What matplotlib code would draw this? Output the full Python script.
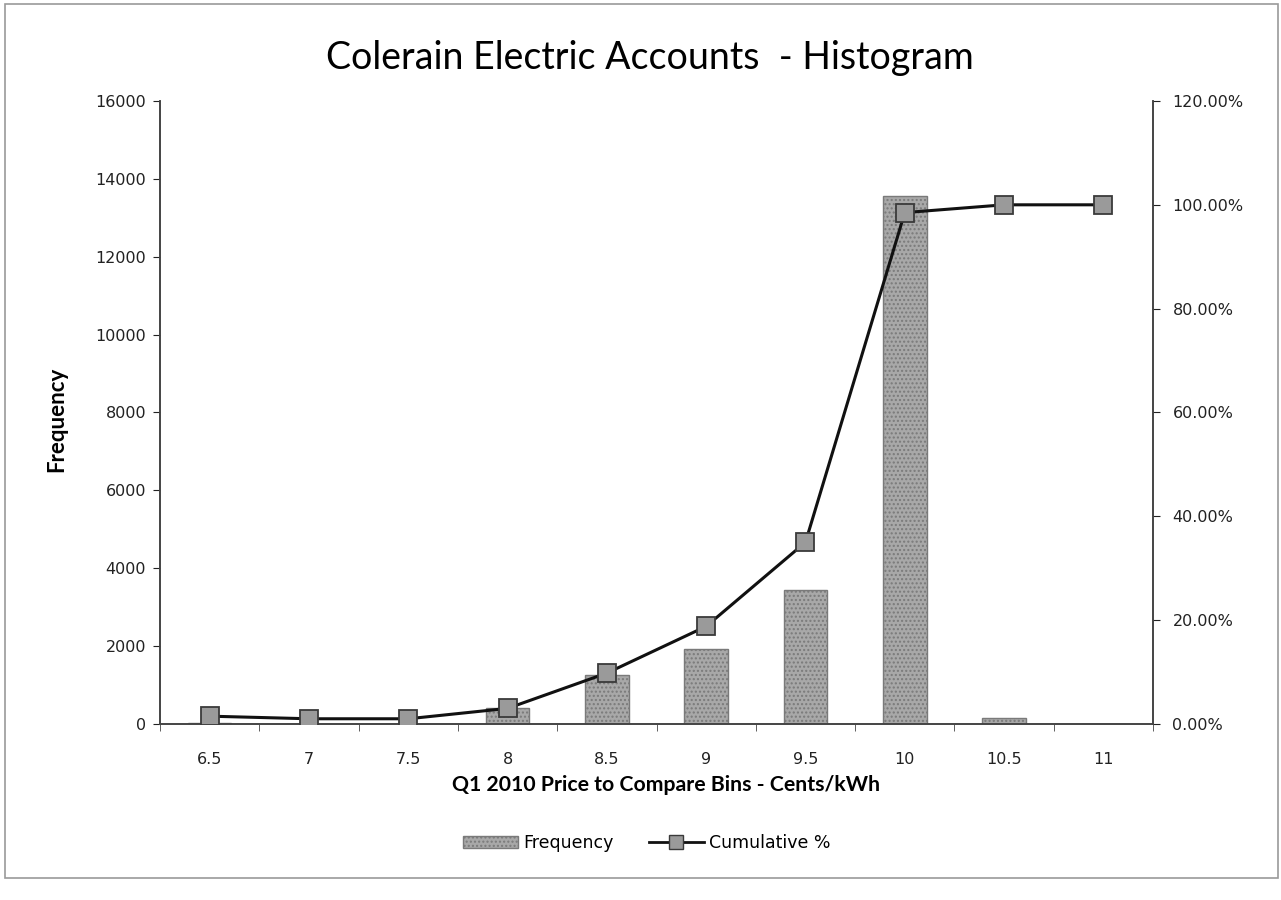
import matplotlib
matplotlib.use("Agg")
import matplotlib.pyplot as plt
from matplotlib.ticker import FuncFormatter, FixedLocator
from matplotlib.patches import Rectangle
from matplotlib.lines import Line2D

# ---- data ----
bins = ["6.5", "7", "7.5", "8", "8.5", "9", "9.5", "10", "10.5", "11"]
frequency = [20, 10, 10, 420, 1250, 1930, 3450, 13550, 150, 0]
cumulative_pct = [1.5, 1.0, 1.0, 3.0, 9.8, 18.8, 35.0, 98.5, 100.0, 100.0]
left_ticks = [0, 2000, 4000, 6000, 8000, 10000, 12000, 14000, 16000]
right_ticks = [0, 20, 40, 60, 80, 100, 120]

title_text = "Colerain Electric Accounts  - Histogram"
xlabel_text = "Q1 2010 Price to Compare Bins - Cents/kWh"
ylabel_text = "Frequency"

fig = plt.figure(figsize=(12.81, 9.0), dpi=100)
fig.patch.set_facecolor("white")

# outer chart border
fig.add_artist(Rectangle((0.004, 0.024), 0.994, 0.972, transform=fig.transFigure,
                         fill=False, edgecolor="#9a9a9a", linewidth=1.2))

ax = fig.add_axes([0.1249, 0.1956, 0.7752, 0.6922])
ax2 = ax.twinx()

x = list(range(len(bins)))
ax.bar(x, frequency, width=0.44, color="#a8a8a8", edgecolor="#7a7a7a",
       linewidth=1, hatch="....", zorder=2)
plt.rcParams["hatch.color"] = "#c8c8c8"
ax.set_xlim(-0.5, len(bins) - 0.5)
ax.set_ylim(0, 16000)
ax.set_yticks(left_ticks)
ax.set_yticklabels([str(t) for t in left_ticks])
ax.set_xticks(x)
ax.set_xticklabels(bins)
ax.xaxis.set_minor_locator(FixedLocator([i + 0.5 for i in range(-1, len(bins))]))
ax.tick_params(axis="x", which="major", length=0, pad=20, labelsize=11.5, colors="#222222")
ax.tick_params(axis="x", which="minor", length=5, direction="out", color="#444444")
ax.tick_params(axis="y", length=5, direction="out", labelsize=11.5, pad=5, colors="#222222")

ax2.plot(x, cumulative_pct, color="#111111", linewidth=2.2, marker="s",
         markersize=13, markerfacecolor="#9a9a9a", markeredgecolor="#3a3a3a",
         markeredgewidth=1.3, zorder=5)
ax2.set_ylim(0, 120)
ax2.set_yticks(right_ticks)
ax2.yaxis.set_major_formatter(FuncFormatter(lambda v, p: f"{v:.2f}%"))
ax2.tick_params(axis="y", length=5, direction="out", labelsize=11.5, pad=9, colors="#222222")
ax2.set_zorder(ax.get_zorder() + 1)
ax2.patch.set_visible(False)

for a in (ax, ax2):
    a.spines["top"].set_visible(False)
    for s in ("left", "right", "bottom"):
        a.spines[s].set_color("#444444")
        a.spines[s].set_linewidth(1.2)

fig.text(0.507, 0.935, title_text, ha="center", va="center",
         fontsize=27, family="Lato")
fig.text(0.044, 0.534, ylabel_text, ha="center", va="center", rotation=90,
         fontsize=16, fontweight="bold", family="Lato")
fig.text(0.52, 0.128, xlabel_text, ha="center", va="center",
         fontsize=15.3, fontweight="bold", family="Lato")

handles = [Rectangle((0, 0), 1, 1, facecolor="#a8a8a8", edgecolor="#7a7a7a", hatch="...."),
           Line2D([0], [0], color="#111111", linewidth=2, marker="s", markersize=10,
                  markerfacecolor="#9a9a9a", markeredgecolor="#3a3a3a")]
fig.legend(handles, ["Frequency", "Cumulative %"], loc="center",
           bbox_to_anchor=(0.505, 0.063), ncol=2, frameon=False, fontsize=12.5,
           handlelength=3.2, columnspacing=2.0, handletextpad=0.3)

fig.savefig("out.png", dpi=100)
